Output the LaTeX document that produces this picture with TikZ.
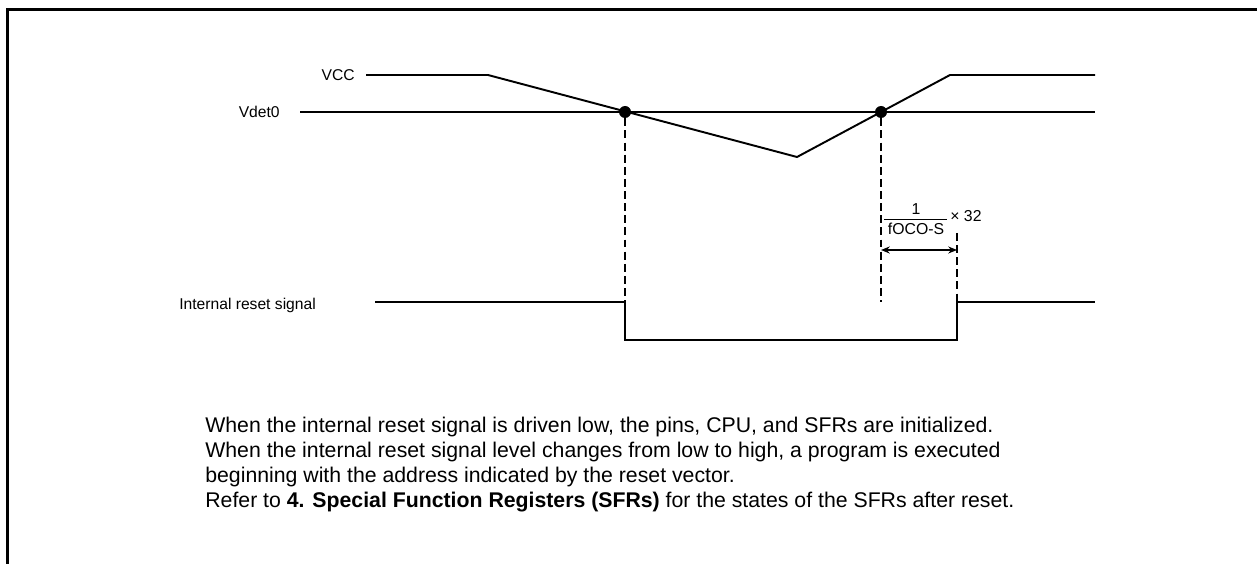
\documentclass[tikz,border=0pt]{standalone}
\usepackage{fontspec}
\setmainfont{Liberation Sans}
\usetikzlibrary{arrows.meta}
\begin{document}
\begin{tikzpicture}[x=0.02cm,y=-0.02cm,
  sig/.style={line width=1.1pt, line join=miter},
  thin/.style={line width=0.6pt},
  guide/.style={line width=0.7pt, dash pattern=on 4.5pt off 2.4pt},
  lbl/.style={font=\fontsize{8.9}{10}\selectfont, inner sep=0pt},
  small/.style={font=\fontsize{9}{10}\selectfont, inner sep=0pt},
  dot/.style={circle, fill=black, inner sep=0pt, minimum size=0.24cm}]
\useasboundingbox (0,0) rectangle (1257,564);

% outer frame (top and left edges)
\draw[line width=1.7pt, line cap=rect] (1257,9.5) -- (7.5,9.5) -- (7.5,564);

% signal labels
\node[lbl, anchor=east] (vcclbl) at (355,75) {VCC};
\node[lbl, anchor=east] (vdetlbl) at (280,112) {Vdet0};
\node[lbl, anchor=west] (rstlbl) at (179,305) {Internal reset signal};

% VCC waveform points
\coordinate (v0) at (366,75);
\coordinate (v1) at (488,75);
\coordinate (vmin) at (797,157);
\coordinate (v2) at (950,75);
\coordinate (v3) at (1095,75);
% detection level
\coordinate (d0) at (300,112);
\coordinate (d1) at (1095,112);

\draw[thin] (d0) -- (d1);
\draw[sig] (v0) -- (v1) -- (vmin) -- (v2) -- (v3);

% crossing points
\node[dot] (xdown) at (625,112) {};
\node[dot] (xup) at (881,112) {};

% internal reset signal
\coordinate (r0) at (375,302);
\coordinate (r1) at (625,302);
\coordinate (r2) at (625,340);
\coordinate (r3) at (957,340);
\coordinate (r4) at (957,302);
\coordinate (r5) at (1095,302);
\draw[sig] (r0) -- (r1) -- (r2) -- (r3) -- (r4) -- (r5);

% dashed guides
\coordinate (g1) at (881,302);
\coordinate (g2) at (957,233);
\draw[guide] (xdown) -- (r1);
\draw[guide] (xup) -- (g1);
\draw[guide] (g2) -- (r4);

% timing interval
\coordinate (a0) at (881,250);
\coordinate (a1) at (957,250);
\draw[line width=0.7pt, {Stealth[length=5pt,width=4pt]}-{Stealth[length=5pt,width=4pt]}] (a0) -- (a1);

\node[small] (num) at (916,209) {1};
\node[small] (den) at (916,229) {fOCO-S};
\coordinate (b0) at (884,219);
\coordinate (b1) at (947,219);
\draw[line width=0.5pt] (b0) -- (b1);
\node[small, anchor=west] (mul) at (950,216) {× 32};

% explanatory note
\node[anchor=north west, inner sep=0pt, align=left,
      font=\fontsize{12.1}{14.2}\selectfont] (note) at (205,416.5)
{When the internal reset signal is driven low, the pins, CPU, and SFRs are initialized.\\
When the internal reset signal level changes from low to high, a program is executed\\
beginning with the address indicated by the reset vector.\\
Refer to \textbf{4. Special Function Registers (SFRs)} for the states of the SFRs after reset.};
\end{tikzpicture}
\end{document}
